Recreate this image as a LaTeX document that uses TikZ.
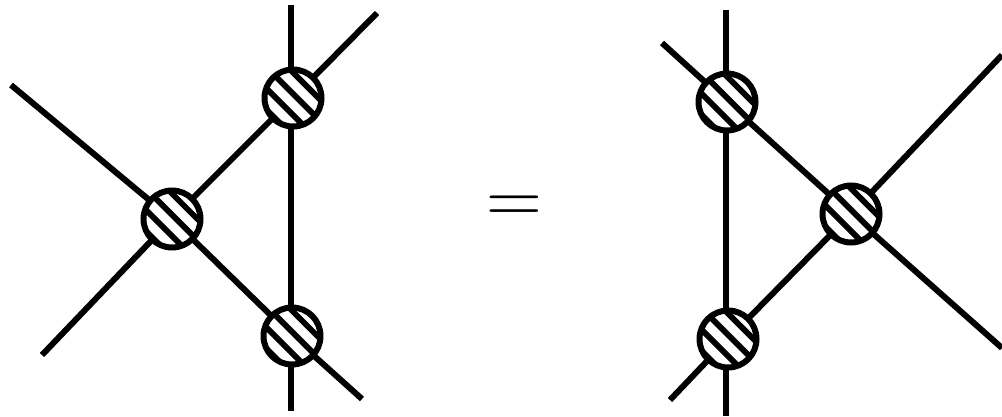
\documentclass[tikz,border=0pt]{standalone}
\usetikzlibrary{calc}
\tikzset{
  edge/.style={line width=4.5pt, line cap=butt},
  hatchline/.style={line width=4.3pt},
  vtx/.style={circle, draw, line width=4.5pt, fill=white, inner sep=0pt,
    minimum size=42.75pt,
    path picture={
      \foreach \o in {-27,-12,3,18}
        \draw[hatchline]
          ($(path picture bounding box.center)+({\o*0.53pt-30pt},{\o*0.53pt+30pt})$) --
          ($(path picture bounding box.center)+({\o*0.53pt+30pt},{\o*0.53pt-30pt})$);
    }},
  eqsign/.style={inner sep=0pt, font=\fontsize{58}{58}\selectfont}
}
\begin{document}
\begin{tikzpicture}[x=0.75pt,y=-0.75pt]
\useasboundingbox (0,0) rectangle (1002,417);
% left diagram
\coordinate (A1) at (172,219);
\coordinate (A2) at (293,98);
\coordinate (A3) at (292,336);
\coordinate (a1) at (11,85);
\coordinate (a2) at (42,355);
\coordinate (a3) at (377,13);
\coordinate (a4) at (362,399);
\coordinate (a5) at (291,5);
\coordinate (a6) at (291,411);
\draw[edge] (a5) -- (a6);
\draw[edge] (a1) -- (A1) -- (A3) -- (a4);
\draw[edge] (a2) -- (A1) -- (A2) -- (a3);
\node[vtx] (v1) at (A1) {};
\node[vtx] (v2) at (A2) {};
\node[vtx] (v3) at (A3) {};
% equals
\node[eqsign] (eq) at (514,210) {=};
% right diagram
\coordinate (B1) at (727,102);
\coordinate (B2) at (728,339);
\coordinate (B3) at (851,214);
\coordinate (b1) at (662,43);
\coordinate (b2) at (670,400);
\coordinate (b3) at (1002,348);
\coordinate (b4) at (1002,55);
\coordinate (b5) at (726,10);
\coordinate (b6) at (726,416);
\draw[edge] (b5) -- (b6);
\draw[edge] (b1) -- (B1) -- (B3) -- (b3);
\draw[edge] (b2) -- (B2) -- (B3) -- (b4);
\node[vtx] (w1) at (B1) {};
\node[vtx] (w2) at (B2) {};
\node[vtx] (w3) at (B3) {};
\end{tikzpicture}
\end{document}
